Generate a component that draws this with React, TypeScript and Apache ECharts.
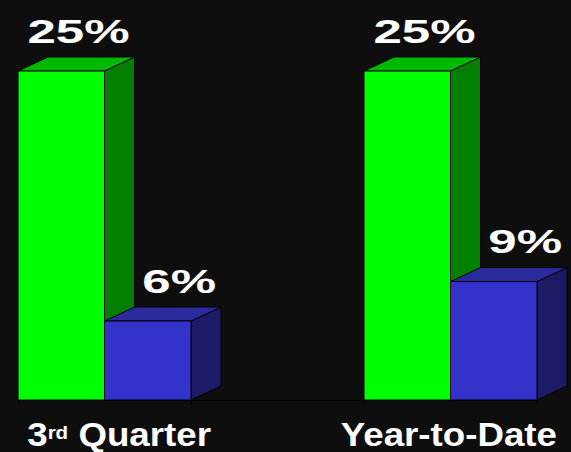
import React, { useEffect, useRef } from "react";
import * as echarts from "echarts";

const categories = ["3rd Quarter", "", "Year-to-Date"];
const seriesGreen: (number | null)[] = [25, null, 25];
const seriesBlue: (number | null)[] = [6, null, 9];

const FONT = "'Liberation Sans', Arial, Helvetica, sans-serif";
const DX = 30;
const DY = -14;

function toData(vals: (number | null)[]) {
  const out: number[][] = [];
  vals.forEach((v, i) => {
    if (v != null) out.push([i, v]);
  });
  return out;
}

function makeBarRender(side: number, front: string, topC: string, sideC: string) {
  return (params: any, api: any) => {
    const ci = api.value(0);
    const v = api.value(1);
    const base = api.coord([ci, 0]);
    const top = api.coord([ci, v]);
    const bw = api.size([1, 0])[0];
    const x0 = base[0] - bw / 2 + (side * bw) / 2;
    const x1 = x0 + bw / 2;
    const yb = base[1];
    const yt = top[1];
    const stroke = { stroke: "#000", lineWidth: 1 };
    return {
      type: "group",
      children: [
        {
          type: "polygon",
          shape: { points: [[x1, yt], [x1 + DX, yt + DY], [x1 + DX, yb + DY], [x1, yb]] },
          style: { fill: sideC, ...stroke },
        },
        {
          type: "polygon",
          shape: { points: [[x0, yt], [x0 + DX, yt + DY], [x1 + DX, yt + DY], [x1, yt]] },
          style: { fill: topC, ...stroke },
        },
        {
          type: "rect",
          shape: { x: x0, y: yt, width: x1 - x0, height: yb - yt },
          style: { fill: front, ...stroke },
        },
        {
          type: "text",
          x: x1 + DX - 5,
          y: yt + DY - 26,
          scaleX: 1.5,
          style: {
            text: v + "%",
            fill: "#ffffff",
            font: "bold 34px " + FONT,
            align: "right",
            verticalAlign: "middle",
          },
        },
      ],
    };
  };
}

function labelRender(params: any, api: any) {
  const ci = api.value(0);
  const name = categories[ci];
  if (!name) return null;
  const base = api.coord([ci, 0]);
  const bw = api.size([1, 0])[0];
  const m = name.match(/^(\d+)(st|nd|rd|th)(.*)$/);
  const text = m ? `{b|${m[1]}}{s|${m[2]}}{b|${m[3]}}` : `{b|${name}}`;
  return {
    type: "text",
    x: base[0] + bw / 2 + 20,
    y: base[1] + 37,
    scaleX: 1.08,
    style: {
      text,
      align: "right",
      verticalAlign: "middle",
      rich: {
        b: { fill: "#fff", fontSize: 34, fontWeight: "bold", fontFamily: FONT, lineHeight: 28, verticalAlign: "bottom" },
        s: { fill: "#fff", fontSize: 19, fontWeight: "bold", fontFamily: FONT, lineHeight: 28, verticalAlign: "top" },
      },
    },
  };
}

export default function App() {
  const ref = useRef<HTMLDivElement>(null);
  useEffect(() => {
    document.body.style.margin = "0";
    document.body.style.background = "#0e0e0e";
    const chart = echarts.init(ref.current!, null, { renderer: "svg" });
    chart.setOption({
      animation: false,
      backgroundColor: "#0e0e0e",
      grid: { left: 18, right: 34, top: 5.2, bottom: 52 },
      xAxis: {
        type: "category",
        data: categories,
        boundaryGap: true,
        axisLine: { show: true, lineStyle: { color: "#000", width: 1 } },
        axisTick: { show: true, length: 5, lineStyle: { color: "#000" } },
        axisLabel: { show: false },
        splitLine: { show: false },
      },
      yAxis: { type: "value", min: 0, max: 30, show: false },
      series: [
        {
          type: "custom",
          name: "green",
          data: toData(seriesGreen),
          encode: { x: 0, y: 1 },
          renderItem: makeBarRender(0, "#00ff00", "#00b900", "#007f00"),
        },
        {
          type: "custom",
          name: "blue",
          data: toData(seriesBlue),
          encode: { x: 0, y: 1 },
          renderItem: makeBarRender(1, "#3333cc", "#2a2a9c", "#1c1c66"),
        },
        {
          type: "custom",
          name: "labels",
          data: categories.map((c, i) => [i, 0]),
          encode: { x: 0, y: 1 },
          renderItem: labelRender,
        },
      ],
    });
    return () => chart.dispose();
  }, []);
  return <div ref={ref} style={{ width: 571, height: 452 }} />;
}
